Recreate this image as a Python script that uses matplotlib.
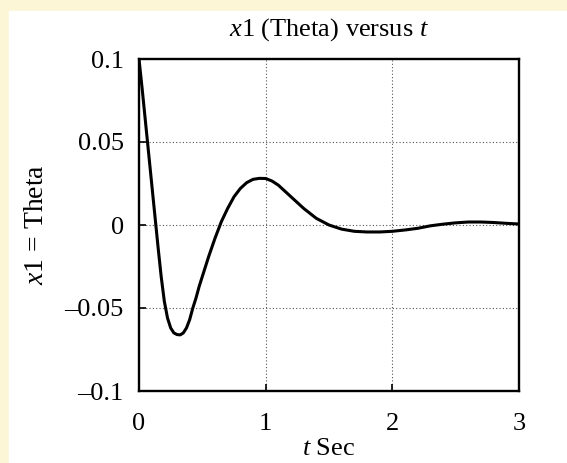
import numpy as np
import matplotlib.pyplot as plt
from matplotlib.patches import Rectangle

# Values
t = [0.0, 0.025, 0.05, 0.075, 0.1, 0.125, 0.15, 0.175, 0.2, 0.225, 0.25,
     0.275, 0.3, 0.325, 0.35, 0.375, 0.4, 0.425, 0.45, 0.475, 0.5, 0.55,
     0.6, 0.65, 0.7, 0.75, 0.8, 0.85, 0.9, 0.95, 1.0, 1.05, 1.1, 1.2, 1.3,
     1.4, 1.5, 1.6, 1.7, 1.8, 1.9, 2.0, 2.1, 2.2, 2.3, 2.4, 2.5, 2.6, 2.7,
     2.8, 2.9, 3.0]
theta = [0.1, 0.082, 0.063, 0.044, 0.025, 0.006, -0.013, -0.031, -0.046,
         -0.056, -0.062, -0.065, -0.066, -0.0662, -0.065, -0.062, -0.057,
         -0.050, -0.044, -0.037, -0.031, -0.019, -0.008, 0.002, 0.010, 0.017,
         0.022, 0.0255, 0.0275, 0.0281, 0.028, 0.0265, 0.024, 0.017, 0.010,
         0.004, 0.0, -0.0025, -0.0038, -0.0042, -0.0042, -0.0038, -0.003,
         -0.002, -0.0005, 0.0005, 0.0013, 0.0018, 0.0018, 0.0015, 0.001,
         0.0006]

xticks = [0, 1, 2, 3]
yticks = [-0.1, -0.05, 0, 0.05, 0.1]
yticklabels = ['\u20130.1', '\u20130.05', '0', '0.05', '0.1']

plt.rcParams['font.family'] = 'Liberation Serif'
plt.rcParams['mathtext.fontset'] = 'custom'
plt.rcParams['mathtext.rm'] = 'Liberation Serif'
plt.rcParams['mathtext.it'] = 'Liberation Serif:italic'

fig = plt.figure(figsize=(5.67, 4.63), dpi=100, facecolor='#fdf6d6')
# white page area inside the patterned border
fig.patches.append(Rectangle((9 / 567, 0), 1, 1 - 11 / 463,
                             transform=fig.transFigure, color='white', zorder=-10))

ax = fig.add_axes([139 / 567, 1 - 391 / 463, 380 / 567, 332 / 463])
ax.plot(t, theta, color='black', linewidth=2.2, solid_joinstyle='round')

ax.set_xlim(0, 3)
ax.set_ylim(-0.1, 0.1)
ax.set_xticks(xticks)
ax.set_yticks(yticks)
ax.set_yticklabels(yticklabels)
ax.grid(True, color='#555555', linestyle=(0, (1, 2)), linewidth=0.8)
ax.tick_params(direction='in', length=5, width=1.2, labelsize=19)
ax.tick_params(axis='x', pad=16)
ax.tick_params(axis='y', pad=11)
for s in ax.spines.values():
    s.set_linewidth(1.7)

ax.set_title(r'$x$1 (Theta) versus $t$', fontsize=19, pad=17)
ax.set_xlabel(r'$t$ Sec', fontsize=19, labelpad=2)
ax.set_ylabel(r'$x$1 = Theta', fontsize=20, labelpad=11)

fig.savefig('out.png', dpi=100, facecolor=fig.get_facecolor())
